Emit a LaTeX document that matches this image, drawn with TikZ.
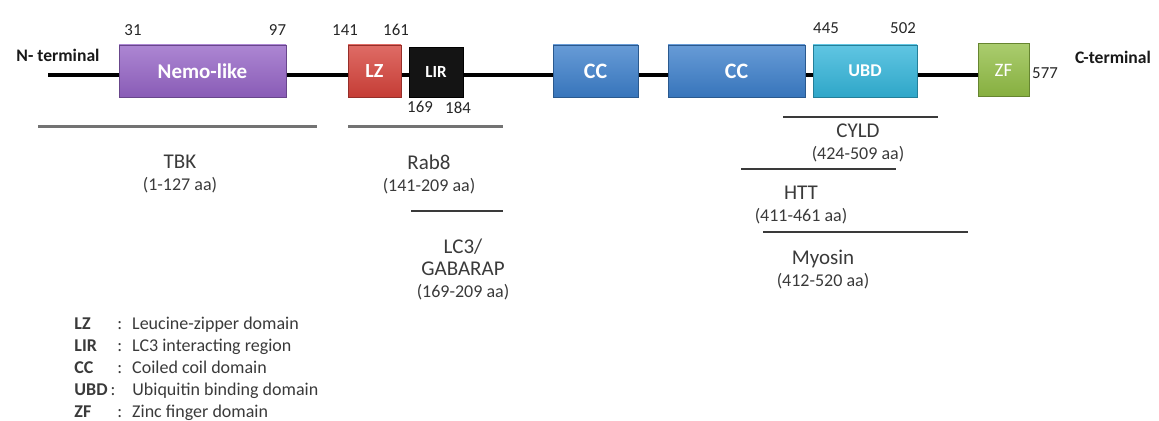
\documentclass[tikz,border=0pt]{standalone}
\usepackage{fontspec}
\setmainfont{Carlito}
\usetikzlibrary{shapes,arrows,calc}
\definecolor{purp}{HTML}{9564C6}
\definecolor{redd}{HTML}{D6423A}
\definecolor{ccblue}{HTML}{3C7FCB}
\definecolor{ubdcyan}{HTML}{33B5DA}
\definecolor{lime}{HTML}{92BE45}
\definecolor{ink}{HTML}{3A3A3A}
\tikzstyle{backbone} = [draw, line width=2pt, black]
\tikzstyle{dombox} = [rectangle, text centered, minimum height=26pt, inner sep=0pt, text=white, font=\bfseries\fontsize{10.5}{12}\selectfont]
\tikzset{tint/.style={top color=#1!78!white, bottom color=#1!92!black, draw=#1!70!black, line width=0.4pt}}
\tikzstyle{posnum} = [inner sep=0pt, text=black!85, font=\fontsize{8.4}{10}\selectfont]
\tikzstyle{termlabel} = [inner sep=0pt, text=black!90, font=\bfseries\fontsize{8.8}{10}\selectfont]
\tikzstyle{bindbar} = [draw, line width=1pt, ink]
\tikzstyle{graybar} = [draw, line width=1.5pt, black!55]
\tikzstyle{partner} = [align=center, inner sep=0pt, text=ink, font=\fontsize{10.5}{11}\selectfont]
\tikzstyle{keylist} = [inner sep=0pt, text=ink, font=\fontsize{9}{11}\selectfont]
\newcommand{\rng}[1]{{\fontsize{9}{11}\selectfont #1}}
\newcommand{\abbr}[1]{\makebox[21.5pt][l]{\textbf{#1}}:\hspace{5pt}}

\begin{document}
\begin{tikzpicture}[x=0.5pt, y=-0.5pt, auto]
        \useasboundingbox (0,0) rectangle (1159,421);
        % backbone
        \coordinate (nstart) at (48,75);
        \coordinate (cend) at (978,75);
        \path[backbone] (nstart) -- (cend);
        % domains
        \node[dombox, tint=purp, minimum width=83.5pt] (nemo) at (202.5,71) {Nemo-like};
        \node[dombox, tint=redd, minimum width=26.5pt, font=\bfseries\fontsize{10}{12}\selectfont] (lz) at (374.5,71) {LZ};
        \node[dombox, fill=black!92, draw=black, minimum width=27pt, minimum height=25pt, font=\bfseries\fontsize{8.5}{10}\selectfont] (lir) at (436,72) {LIR};
        \node[dombox, tint=ccblue, minimum width=42.5pt, font=\bfseries\fontsize{11}{12}\selectfont] (cc1) at (595.5,71) {CC};
        \node[dombox, tint=ccblue, minimum width=68.5pt, font=\bfseries\fontsize{11}{12}\selectfont] (cc2) at (736.5,71) {CC};
        \node[dombox, tint=ubdcyan, minimum width=52pt, font=\bfseries\fontsize{9}{12}\selectfont] (ubd) at (865,71) {UBD};
        \node[dombox, tint=lime, minimum width=25.5pt, minimum height=26.5pt, font=\fontsize{9.5}{12}\selectfont] (zf) at (1003.5,70) {ZF};
        % ends and positions
        \node[termlabel] (nterm) at (58,55) {N- terminal};
        \node[termlabel] (cterm) at (1113,57) {C-terminal};
        \node[posnum] (p31) at (133,30) {31};
        \node[posnum] (p97) at (277.5,30) {97};
        \node[posnum] (p141) at (345,30) {141};
        \node[posnum] (p161) at (396,30) {161};
        \node[posnum] (p169) at (420,107) {169};
        \node[posnum] (p184) at (458,108) {184};
        \node[posnum] (p445) at (826,28) {445};
        \node[posnum] (p502) at (903,28) {502};
        \node[posnum] (p577) at (1045,73) {577};
        % binding partners
        \path[graybar] (38,127) -- (317,127);
        \node[partner] (tbk) at (180,174) {TBK\\\rng{(1-127 aa)}};
        \path[graybar] (348,127) -- (503,127);
        \node[partner] (rab) at (429,174) {Rab8\\\rng{(141-209 aa)}};
        \path[bindbar] (411,211) -- (503,211);
        \node[partner] (lc3) at (463,269) {LC3/\\GABARAP\\\rng{(169-209 aa)}};
        \path[bindbar] (783,117) -- (938,117);
        \node[partner] (cyld) at (858,142.5) {CYLD\\\rng{(424-509 aa)}};
        \path[bindbar] (741,169) -- (896,169);
        \node[partner] (htt) at (801,205) {HTT\\\rng{(411-461 aa)}};
        \path[bindbar] (763,232) -- (968,232);
        \node[partner] (myo) at (823,269.5) {Myosin\\\rng{(412-520 aa)}};
        % legend
        \node[keylist, anchor=west] (legend) at (74,369) {\begin{tabular}{@{}l@{}}
            \abbr{LZ}Leucine-zipper domain\\
            \abbr{LIR}LC3 interacting region\\
            \abbr{CC}Coiled coil domain\\
            \makebox[29pt][l]{\textbf{UBD}\,:}Ubiquitin binding domain\\
            \abbr{ZF}Zinc finger domain
        \end{tabular}};
    \end{tikzpicture}
\end{document}
